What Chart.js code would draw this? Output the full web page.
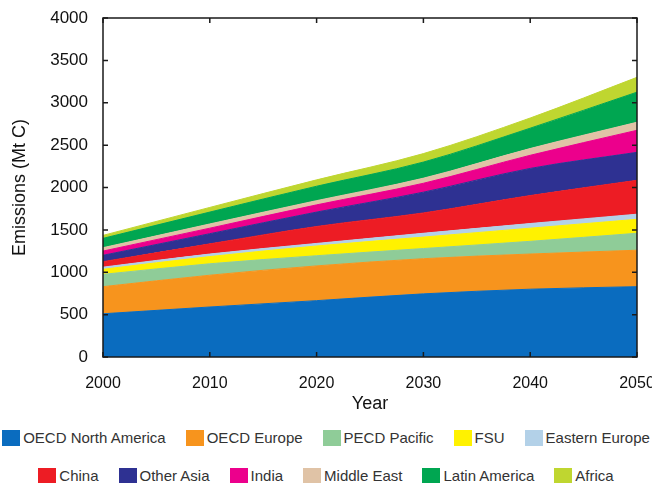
<!DOCTYPE html>
<html>
<head>
<meta charset="utf-8">
<script src="https://cdn.jsdelivr.net/npm/chart.js@4/dist/chart.umd.min.js"></script>
<style>
  body { margin: 0; background: #fff; font-family: "Liberation Sans", Arial, sans-serif; }
  #wrap { position: relative; width: 652px; height: 483px; overflow: hidden; }
  .row { position: absolute; left: 0; width: 652px; display: flex; justify-content: center; white-space: nowrap; }
  .item { display: flex; align-items: center; margin: 0 10px; font-size: 15px; color: #333; }
  .box { width: 18px; height: 16px; margin-right: 3px; }
</style>
</head>
<body>
<div id="wrap">
  <canvas id="emissions" width="652" height="420"></canvas>
  <div class="row" id="row1" style="top:429px"></div>
  <div class="row" id="row2" style="top:467px"></div>
</div>
<script>
// Emissions by region, Mt C
var years = [2000, 2010, 2020, 2030, 2040, 2050];
var oecdNorthAmerica = [510, 590, 665, 745, 800, 830];
var oecdEurope = [320, 375, 410, 415, 415, 430];
var pecdPacific = [145, 135, 120, 120, 150, 200];
var fsu = [60, 85, 115, 135, 155, 165];
var easternEurope = [25, 30, 30, 45, 55, 60];
var china = [65, 120, 200, 240, 330, 400];
var otherAsia = [75, 120, 170, 245, 320, 330];
var india = [50, 65, 85, 105, 155, 260];
var middleEast = [40, 50, 50, 60, 80, 95];
var latinAmerica = [110, 140, 170, 190, 240, 355];
var africa = [35, 55, 75, 100, 120, 175];

var yTicks = [0, 500, 1000, 1500, 2000, 2500, 3000, 3500, 4000];
var xTicks = [2000, 2010, 2020, 2030, 2040, 2050];

var names = ["OECD North America", "OECD Europe", "PECD Pacific", "FSU", "Eastern Europe",
             "China", "Other Asia", "India", "Middle East", "Latin America", "Africa"];
var series = [oecdNorthAmerica, oecdEurope, pecdPacific, fsu, easternEurope,
              china, otherAsia, india, middleEast, latinAmerica, africa];
var colors = ["#0a6cbf", "#f7941d", "#8fcc98", "#fff200", "#b3d1e8",
              "#ed1c24", "#2e3192", "#ec008c", "#e0c3a6", "#00a651", "#bfd630"];

var font = "'Liberation Sans', Arial, sans-serif";

var datasets = series.map(function (vals, i) {
  return {
    label: names[i],
    data: vals.map(function (v, j) { return {x: years[j], y: v}; }),
    backgroundColor: colors[i],
    borderColor: colors[i],
    borderWidth: 1,
    pointRadius: 0,
    fill: i === 0 ? "origin" : "-1",
    cubicInterpolationMode: "monotone"
  };
});

// box round the plot with short inward ticks on all four sides
var frame = {
  id: "frame",
  afterDraw: function (chart) {
    var ctx = chart.ctx, a = chart.chartArea;
    var xs = chart.scales.x, ys = chart.scales.y;
    ctx.save();
    ctx.strokeStyle = "#1a1a1a";
    ctx.lineWidth = 1.5;
    ctx.strokeRect(a.left, a.top, a.right - a.left, a.bottom - a.top);
    ctx.beginPath();
    yTicks.forEach(function (v) {
      var py = ys.getPixelForValue(v);
      ctx.moveTo(a.left, py); ctx.lineTo(a.left + 5, py);
      ctx.moveTo(a.right, py); ctx.lineTo(a.right - 5, py);
    });
    xTicks.forEach(function (v) {
      var px = xs.getPixelForValue(v);
      ctx.moveTo(px, a.bottom); ctx.lineTo(px, a.bottom - 5);
      ctx.moveTo(px, a.top); ctx.lineTo(px, a.top + 5);
    });
    ctx.stroke();
    ctx.restore();
  }
};

function plain(v) { return String(v); }

new Chart("emissions", {
  type: "line",
  data: {datasets: datasets},
  options: {
    responsive: false,
    animation: false,
    layout: {padding: {top: 18, right: 15, left: 0, bottom: 0}},
    plugins: {legend: {display: false}, tooltip: {enabled: false}},
    scales: {
      x: {
        type: "linear",
        min: 2000, max: 2050,
        afterBuildTicks: function (s) { s.ticks = xTicks.map(function (v) { return {value: v}; }); },
        afterFit: function (s) { s.height = 63; s.paddingRight = 0; s.paddingLeft = 0; },
        grid: {display: false},
        border: {display: false},
        ticks: {color: "#111", padding: 9, maxRotation: 0, callback: plain, font: {family: font, size: 16}},
        title: {display: true, text: "Year", color: "#111", padding: {top: 0, bottom: 5}, font: {family: font, size: 18}}
      },
      y: {
        stacked: true,
        min: 0, max: 4000,
        afterBuildTicks: function (s) { s.ticks = yTicks.map(function (v) { return {value: v}; }); },
        afterFit: function (s) { s.width = 103; s.paddingTop = 0; s.paddingBottom = 0; },
        grid: {display: false},
        border: {display: false},
        ticks: {color: "#111", padding: 7, callback: plain, font: {family: font, size: 17}},
        title: {display: true, text: "Emissions (Mt C)", color: "#111", padding: {top: 9, bottom: 0}, font: {family: font, size: 18}}
      }
    }
  },
  plugins: [frame]
});

// legend below the chart, two rows
names.forEach(function (n, i) {
  var item = document.createElement("div");
  item.className = "item";
  item.innerHTML = '<span class="box" style="background:' + colors[i] + '"></span>' + n;
  document.getElementById(i < 5 ? "row1" : "row2").appendChild(item);
});
</script>
</body>
</html>
